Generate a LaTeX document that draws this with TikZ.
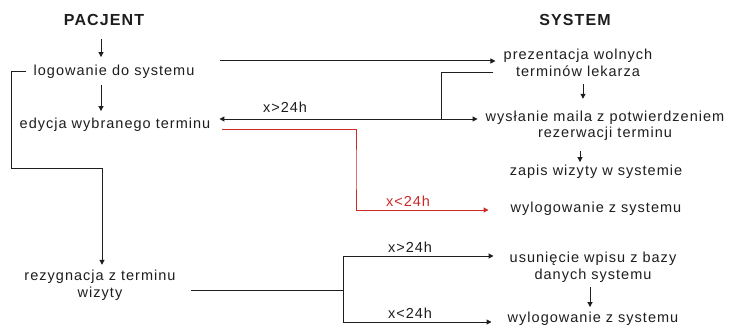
\documentclass[tikz,border=0pt]{standalone}
\usepackage{fontspec}
\usetikzlibrary{arrows.meta}
\newfontfamily\bodyfam[LetterSpace=7]{Liberation Sans}
\newcommand\txtfont{\bodyfam\fontsize{14.5}{16.5}\selectfont}
\newcommand\hdfont{\bodyfam\bfseries\fontsize{16}{18}\selectfont}
\definecolor{redline}{RGB}{204,41,41}
\definecolor{ink}{RGB}{30,30,30}
\begin{document}
\begin{tikzpicture}[x=1pt,y=-1pt,
  tx/.style={font=\txtfont, inner sep=0pt, text height=10.5pt, text depth=3pt, text=ink},
  tx2/.style={font=\txtfont, inner sep=0pt, align=center, text=ink},
  hd/.style={font=\hdfont, inner sep=0pt, text=ink},
  lbl/.style={font=\txtfont, inner sep=0pt, text=ink},
  ln/.style={draw=ink, line width=1pt},
  arr/.style={ln, -{Triangle[length=5pt,width=5pt]}},
  redarr/.style={draw=redline, line width=1pt, -{Triangle[length=5pt,width=5pt]}}]
\useasboundingbox[fill=white] (0,0) rectangle (731,329);
% nodes
\node[hd] (pac) at (104,20) {PACJENT};
\node[hd] (sys) at (575,20) {SYSTEM};
\node[tx] (log) at (114,72) {logowanie do systemu};
\node[tx] (edy) at (115,125) {edycja wybranego terminu};
\node[tx2] (prez) at (578,63) {prezentacja wolnych\\terminów lekarza};
\node[tx2] (wys) at (605,126) {wysłanie maila z potwierdzeniem\\rezerwacji terminu};
\node[tx] (zap) at (596,172) {zapis wizyty w systemie};
\node[tx] (wyl1) at (596,209) {wylogowanie z systemu};
\node[tx2] (rez) at (100,285) {rezygnacja z terminu\\wizyty};
\node[tx2] (usu) at (593,267) {usunięcie wpisu z bazy\\danych systemu};
\node[tx] (wyl2) at (593,319) {wylogowanie z systemu};
% junctions
\coordinate (c1) at (11,168);
\coordinate (j1) at (441,119);
\coordinate (r1) at (356,169);
\coordinate (j2) at (343,290);
% left column
\draw[arr] ([xshift=-3pt,yshift=-13pt]pac.south) -- ([xshift=-13pt,yshift=8pt]log.north);
\draw[arr] ([xshift=-13pt,yshift=-6pt]log.south) -- ([xshift=-14pt,yshift=7pt]edy.north);
\draw[arr] ([xshift=-7pt]log.west) -| (c1) -| ([xshift=2pt,yshift=5pt]rez.north);
% log -> prez
\draw[arr] ([xshift=25pt,yshift=11pt]log.east) -- ([xshift=-8pt,yshift=2pt]prez.west);
% prez -> j1 -> edy / wys
\draw[ln] ([xshift=-10pt,yshift=-10pt]prez.west) -| (j1);
\draw[arr] (j1) -- ([xshift=9pt,yshift=6pt]edy.east);
\draw[arr] (j1) -- ([xshift=-8pt,yshift=7pt]wys.west);
\node[lbl] (l1) at (285,107) {x>24h};
% red path
\draw[redarr] ([xshift=12pt,yshift=-4pt]edy.east) -| (r1) |- ([xshift=-22pt,yshift=-1pt]wyl1.west);
\node[lbl, text=redline] (l2) at (408,201) {x<24h};
% system column
\draw[arr] ([xshift=5pt,yshift=-7pt]prez.south) -- ([xshift=-22pt,yshift=12pt]wys.north);
\draw[arr] ([xshift=-25pt,yshift=-10pt]wys.south) -- ([xshift=-16pt,yshift=3pt]zap.north);
\draw[arr] ([xshift=-3pt,yshift=-5pt]usu.south) -- ([xshift=-3pt,yshift=5pt]wyl2.north);
% rezygnacja branch
\draw[ln] ([xshift=15pt,yshift=-5pt]rez.east) -- (j2);
\draw[arr] (j2) |- ([xshift=-16pt,yshift=11pt]usu.west);
\draw[arr] (j2) |- ([xshift=-16pt,yshift=-3pt]wyl2.west);
\node[lbl] (l3) at (410,247) {x>24h};
\node[lbl] (l4) at (410,313) {x<24h};
\end{tikzpicture}
\end{document}
